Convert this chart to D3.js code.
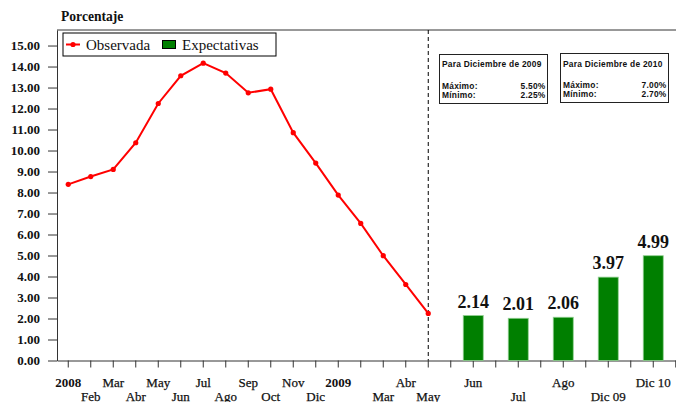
<!DOCTYPE html>
<html>
<head>
<meta charset="utf-8">
<script src="https://cdn.jsdelivr.net/npm/d3@7"></script>
<style>
  body { margin: 0; background: #fff; }
  svg { display: block; }
</style>
</head>
<body>
<script>
// slots on the x axis, one per month / forecast
const tickLabels = ['2008','Feb','Mar','Abr','May','Jun','Jul','Ago','Sep','Oct','Nov','Dic',
  '2009','','Mar','Abr','May','','Jun','','Jul','','Ago','','Dic 09','','Dic 10','','']
const yearLabels = ['2008', '2009']

// observed inflation, Jan 2008 - May 2009
const observada = [8.39, 8.76, 9.10, 10.37, 12.24, 13.56, 14.16, 13.69, 12.75, 12.92, 10.85,
  9.40, 7.88, 6.53, 4.99, 3.62, 2.24]

// expectations
const expSlots = [18, 20, 22, 24, 26]
const expValues = [2.14, 2.01, 2.06, 3.97, 4.99]

const yTicks = d3.range(0, 16)

const boxes = [
  {title: 'Para Diciembre de 2009', max: '5.50%', min: '2.25%'},
  {title: 'Para Diciembre de 2010', max: '7.00%', min: '2.70%'}
]

const W = 676, H = 402
const svg = d3.select('body').append('svg')
  .attr('width', W)
  .attr('height', H)

const plotLeft = 57, plotTop = 30, plotBottom = 360.5
const slot = 22.5

const x = d3.scaleBand()
  .domain(d3.range(tickLabels.length))
  .range([plotLeft, plotLeft + slot * tickLabels.length])
const cx = i => x(i) + x.bandwidth() / 2

const y = d3.scaleLinear()
  .domain([0, 15.74])
  .range([plotBottom, plotTop])

const serif = '"Liberation Serif", "Times New Roman", serif'
const sans = '"Liberation Sans", Arial, sans-serif'

// frame top
svg.append('line')
  .attr('x1', plotLeft).attr('x2', W + 40)
  .attr('y1', plotTop).attr('y2', plotTop)
  .attr('stroke', '#333').attr('stroke-width', 1)

// y axis
const yAxis = d3.axisLeft(y)
  .tickValues(yTicks)
  .tickFormat(d3.format('.2f'))
  .tickSize(9)
  .tickSizeOuter(0)
  .tickPadding(8)
const gy = svg.append('g')
  .attr('transform', `translate(${plotLeft},0)`)
  .call(yAxis)
gy.select('.domain').attr('stroke', '#333')
gy.selectAll('.tick line').attr('stroke', '#333')
gy.selectAll('text')
  .attr('font-family', serif)
  .attr('font-weight', 'bold')
  .attr('font-size', 13)
  .attr('fill', '#111')

// x axis
const xAxis = d3.axisBottom(x)
  .tickFormat(i => tickLabels[i])
  .tickSize(7)
  .tickSizeOuter(0)
const gx = svg.append('g')
  .attr('transform', `translate(0,${plotBottom})`)
  .call(xAxis)
gx.select('.domain').attr('stroke', '#333')
gx.selectAll('.tick line').attr('stroke', '#333')

// alternate label rows among the non-empty labels
let k = 0
const rowOf = {}
tickLabels.forEach((t, i) => { if (t) { rowOf[i] = k % 2; k++ } })
gx.selectAll('.tick text')
  .attr('font-family', serif)
  .attr('font-size', 13)
  .attr('fill', '#111')
  .attr('font-weight', i => yearLabels.includes(tickLabels[i]) ? 'bold' : 'normal')
  .attr('stroke', i => yearLabels.includes(tickLabels[i]) ? null : '#111')
  .attr('stroke-width', 0.25)
  .attr('dy', null)
  .attr('y', i => rowOf[i] ? 40 : 26)

// dashed separator at last observation
svg.append('line')
  .attr('x1', cx(observada.length - 1)).attr('x2', cx(observada.length - 1))
  .attr('y1', plotTop).attr('y2', plotBottom)
  .attr('stroke', '#000')
  .attr('stroke-width', 1)
  .attr('stroke-dasharray', '4,3')

// bars
svg.selectAll('rect.bar')
  .data(expValues)
  .enter()
  .append('rect')
  .attr('class', 'bar')
  .attr('x', (d, i) => cx(expSlots[i]) - 10)
  .attr('width', 20)
  .attr('y', d => y(d))
  .attr('height', d => plotBottom - y(d))
  .attr('fill', '#007f00')
  .attr('stroke', '#8fcf8f')
  .attr('stroke-width', 0.8)

svg.selectAll('text.val')
  .data(expValues)
  .enter()
  .append('text')
  .attr('class', 'val')
  .attr('x', (d, i) => cx(expSlots[i]))
  .attr('y', d => y(d) - 8)
  .attr('text-anchor', 'middle')
  .attr('font-family', serif)
  .attr('font-weight', 'bold')
  .attr('font-size', 18)
  .attr('fill', '#111')
  .text(d => d.toFixed(2))

// observed line
const line = d3.line()
  .x((d, i) => cx(i))
  .y(d => y(d))
svg.append('path')
  .datum(observada)
  .attr('d', line)
  .attr('fill', 'none')
  .attr('stroke', '#ff0000')
  .attr('stroke-width', 2)

svg.selectAll('circle.pt')
  .data(observada)
  .enter()
  .append('circle')
  .attr('class', 'pt')
  .attr('cx', (d, i) => cx(i))
  .attr('cy', d => y(d))
  .attr('r', 2.6)
  .attr('fill', '#ff0000')

// title
svg.append('text')
  .attr('x', 61).attr('y', 21)
  .attr('font-family', serif)
  .attr('font-weight', 'bold')
  .attr('font-size', 13.6)
  .attr('fill', '#111')
  .text('Porcentaje')

// legend
const lg = svg.append('g')
lg.append('rect')
  .attr('x', 63).attr('y', 33).attr('width', 213).attr('height', 23)
  .attr('fill', '#fff').attr('stroke', '#000').attr('stroke-width', 1)
lg.append('line')
  .attr('x1', 66).attr('x2', 80).attr('y1', 44.5).attr('y2', 44.5)
  .attr('stroke', '#ff0000').attr('stroke-width', 2)
lg.append('circle')
  .attr('cx', 73).attr('cy', 44.5).attr('r', 2.6).attr('fill', '#ff0000')
lg.append('text')
  .attr('x', 86).attr('y', 50)
  .attr('font-family', serif).attr('font-size', 15).attr('fill', '#111')
  .text('Observada')
lg.append('rect')
  .attr('x', 162.5).attr('y', 40.5).attr('width', 13).attr('height', 8)
  .attr('fill', '#007f00').attr('stroke', '#000').attr('stroke-width', 1)
lg.append('text')
  .attr('x', 182).attr('y', 50)
  .attr('font-family', serif).attr('font-size', 15).attr('fill', '#111')
  .text('Expectativas')

// range boxes
const boxX = [439.5, 560.5]
const boxY = [54.5, 53.5]
boxes.forEach((b, i) => {
  const g = svg.append('g').attr('transform', `translate(${boxX[i]},${boxY[i]})`)
  g.append('rect')
    .attr('width', 108).attr('height', 49)
    .attr('fill', '#fff').attr('stroke', '#222').attr('stroke-width', 1)
  const t = (txt, tx, ty, anchor) => g.append('text')
    .attr('x', tx).attr('y', ty)
    .attr('text-anchor', anchor)
    .attr('font-family', sans).attr('font-weight', 'bold')
    .attr('font-size', 8.4).attr('fill', '#111')
    .attr('letter-spacing', 0.25)
    .text(txt)
  t(b.title, 2.5, 12 + i, 'start')
  t('Máximo:', 2.5, 34, 'start')
  t(b.max, 106, 34, 'end')
  t('Mínimo:', 2.5, 43, 'start')
  t(b.min, 106, 43, 'end')
})
</script>
</body>
</html>
